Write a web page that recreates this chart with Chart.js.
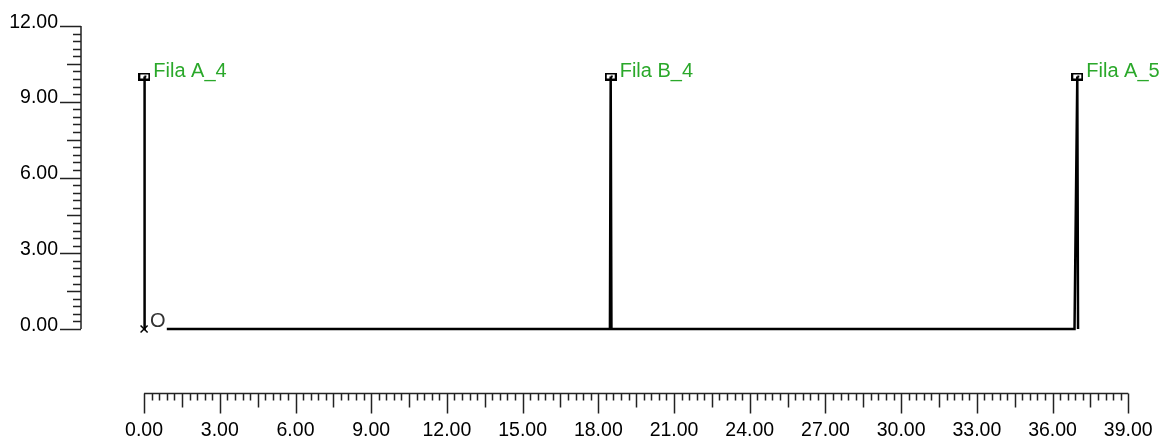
<!DOCTYPE html>
<html>
<head>
<meta charset="utf-8">
<script src="https://cdn.jsdelivr.net/npm/chart.js@4"></script>
<style>
    body { margin: 0; background: #fff; }
    canvas { display: block; }
</style>
</head>
<body>
<canvas id="chrom" width="1168" height="444"></canvas>
<script>
// Data
const traceTimes  = [0.00, 0.01, 0.03, 0.50, 0.90, 18.46, 18.49, 18.52, 36.87, 36.98, 37.01];
const traceSignal = [0, 10, 0, null, 0, 0, 10, 0, 0, 10, 0];

const peakTimes   = [0.01, 18.49, 36.98];
const peakHeights = [10, 10, 10];
const peakNames   = ['Fila A_4', 'Fila B_4', 'Fila A_5'];

const startTimes  = [0.00];
const startSignal = [0];
const startLabels = ['O'];

const xTickValues = [0, 3, 6, 9, 12, 15, 18, 21, 24, 27, 30, 33, 36, 39];
const xTickLabels = ['0.00', '3.00', '6.00', '9.00', '12.00', '15.00', '18.00', '21.00', '24.00', '27.00', '30.00', '33.00', '36.00', '39.00'];
const yTickValues = [0, 3, 6, 9, 12];
const yTickLabels = ['0.00', '3.00', '6.00', '9.00', '12.00'];

// Styles
const axisColor  = '#222';
const labelGreen = '#2aa82a';
const fontFamily = 'Arial, "Liberation Sans", sans-serif';
const minorStep  = 0.3;
const xAxisLevel = -2.55;   // x axis sits below the plot, in signal units

// small box marker at each apex
const apexMarker = () => {
    const c = document.createElement('canvas');
    c.width = 12;
    c.height = 8;
    const g = c.getContext('2d');
    g.fillStyle = '#fff';
    g.fillRect(0, 0, 12, 8);
    g.strokeStyle = '#000';
    g.lineWidth = 2;
    g.strokeRect(1, 1, 10, 6);
    g.fillStyle = '#000';
    g.fillRect(6, 3, 2, 2);
    return c;
};

const tickKind = (i) => (i % 10 === 0 ? 'major' : (i % 5 === 0 ? 'mid' : 'minor'));

// draws both axes with their minor / mid / major ticks
const axesPlugin = {
    id: 'chromAxes',
    afterDraw(chart) {
        const { ctx, chartArea, scales: { x, y } } = chart;
        ctx.save();
        ctx.strokeStyle = axisColor;
        ctx.fillStyle = '#000';
        ctx.lineWidth = 1.5;
        ctx.font = '19.5px ' + fontFamily;

        // y axis
        const ax = chartArea.left;
        ctx.beginPath();
        ctx.moveTo(ax, y.getPixelForValue(0));
        ctx.lineTo(ax, y.getPixelForValue(12));
        const yLen = { major: 21, mid: 14, minor: 8 };
        for (let i = 0; i <= 40; i++) {
            const py = Math.round(y.getPixelForValue(i * minorStep)) + 0.5;
            ctx.moveTo(ax - yLen[tickKind(i)], py);
            ctx.lineTo(ax, py);
        }
        ctx.stroke();

        ctx.textAlign = 'right';
        ctx.textBaseline = 'alphabetic';
        yTickValues.forEach((v, i) => {
            ctx.fillText(yTickLabels[i], ax - 23, y.getPixelForValue(v) + 1.5);
        });

        // x axis
        const ay = Math.round(y.getPixelForValue(xAxisLevel)) + 0.5;
        ctx.beginPath();
        ctx.moveTo(x.getPixelForValue(0), ay);
        ctx.lineTo(x.getPixelForValue(39), ay);
        const xLen = { major: 20, mid: 14, minor: 7 };
        for (let i = 0; i <= 130; i++) {
            const px = Math.round(x.getPixelForValue(i * minorStep)) + 0.5;
            ctx.moveTo(px, ay);
            ctx.lineTo(px, ay + xLen[tickKind(i)]);
        }
        ctx.stroke();

        ctx.textAlign = 'center';
        xTickValues.forEach((v, i) => {
            ctx.fillText(xTickLabels[i], x.getPixelForValue(v), ay + 42);
        });

        // peak names
        ctx.textAlign = 'left';
        ctx.fillStyle = labelGreen;
        ctx.font = '20px ' + fontFamily;
        peakTimes.forEach((t, i) => {
            ctx.fillText(peakNames[i], x.getPixelForValue(t) + 9, y.getPixelForValue(peakHeights[i]) + 0.5);
        });

        // start marker label
        ctx.fillStyle = '#333';
        ctx.font = '20px ' + fontFamily;
        startTimes.forEach((t, i) => {
            ctx.fillText(startLabels[i], x.getPixelForValue(t) + 6, y.getPixelForValue(startSignal[i]) - 2.5);
        });

        ctx.restore();
    }
};

new Chart(document.getElementById('chrom'), {
    type: 'line',
    data: {
        datasets: [
            {
                label: 'trace',
                data: traceTimes.map((t, i) => ({ x: t, y: traceSignal[i] })),
                borderColor: '#000',
                borderWidth: 2.5,
                pointRadius: 0,
                tension: 0,
                spanGaps: false,
                clip: false
            },
            {
                label: 'apex',
                type: 'scatter',
                data: peakTimes.map((t, i) => ({ x: t, y: peakHeights[i] })),
                pointStyle: apexMarker(),
                clip: false
            },
            {
                label: 'start',
                type: 'scatter',
                data: startTimes.map((t, i) => ({ x: t, y: startSignal[i] })),
                pointStyle: 'crossRot',
                pointRadius: 5,
                borderColor: '#000',
                borderWidth: 1.5,
                clip: false
            }
        ]
    },
    options: {
        responsive: false,
        animation: false,
        devicePixelRatio: 1,
        layout: { padding: { left: 81, right: 14.5, top: 26, bottom: 115 } },
        plugins: { legend: { display: false }, tooltip: { enabled: false } },
        scales: {
            x: { type: 'linear', min: -2.5, max: 40, display: false },
            y: { type: 'linear', min: 0, max: 12, display: false }
        }
    },
    plugins: [axesPlugin]
});
</script>
</body>
</html>
